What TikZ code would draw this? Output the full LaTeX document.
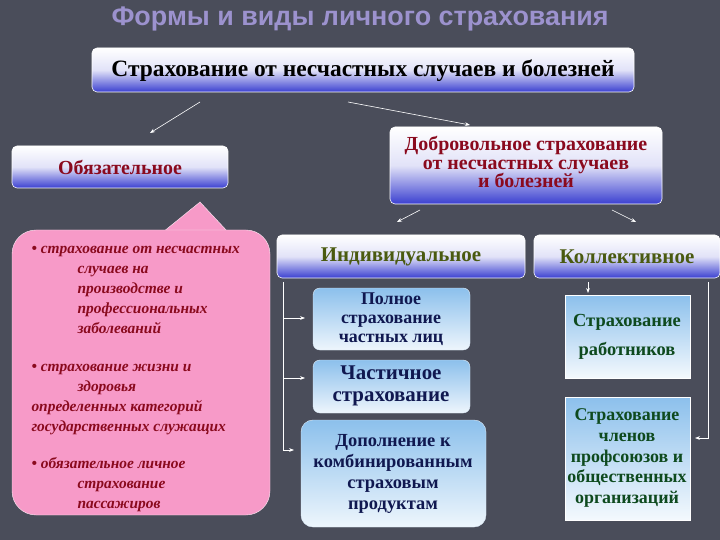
\documentclass[tikz,border=0pt]{standalone}
\usepackage{fontspec}
\setmainfont{Liberation Serif}
\newfontfamily\titlefont{Liberation Sans}
\usetikzlibrary{arrows.meta}
\definecolor{bgcol}{HTML}{4A4D5A}
\definecolor{barblue}{HTML}{3A3FD0}
\definecolor{darkred}{HTML}{8A0A1E}
\definecolor{navy}{HTML}{101850}
\definecolor{olivetxt}{HTML}{4A5A10}
\definecolor{greentxt}{HTML}{0E4A1E}
\definecolor{pinkbox}{HTML}{F79AC8}
\definecolor{titlecol}{HTML}{9C92CE}
\definecolor{skyblue}{HTML}{8CC0EC}
\tikzset{
  barbox/.style={rounded corners=5pt, draw=white, line width=0.6pt, top color=white, bottom color=barblue, middle color=white!85!barblue},
  bluebox/.style={rounded corners=7pt, draw=white!70!skyblue, top color=skyblue, bottom color=white!85!skyblue},
  sqbox/.style={draw=white, top color=skyblue, bottom color=white!90!skyblue},
  conn/.style={white, line width=0.6pt, -{Stealth[length=5pt]}},
}
\begin{document}
\begin{tikzpicture}[x=1bp, y=-1bp, font=\bfseries]
  \fill[bgcol] (0,0) rectangle (720,540);
  \useasboundingbox (0,0) rectangle (720,540);

  % Title
  \node (title) at (360,19) {\titlefont\fontsize{27}{30}\selectfont\color{titlecol}Формы и виды личного страхования};

  % Bars
  \shade[barbox] (92,48) rectangle (634,92);
  \node (top) at (363,71) {\fontsize{23.5}{26}\selectfont Страхование от несчастных случаев и болезней};
  \shade[barbox] (12,146) rectangle (228,188);
  \node[darkred] (obl) at (120,167) {\fontsize{20}{22}\selectfont Обязательное};
  \shade[barbox] (390,127) rectangle (662,204);
  \node[darkred, align=center, font=\bfseries\fontsize{20}{19}\selectfont] (dobr) at (526,162) {Добровольное страхование\\от несчастных случаев\\и болезней};
  \shade[barbox] (277,235) rectangle (525,278);
  \node[olivetxt] (ind) at (401,257) {\fontsize{21}{23}\selectfont Индивидуальное};
  \shade[barbox] (534,235) rectangle (720,278);
  \node[olivetxt] (koll) at (627,257) {\fontsize{21}{23}\selectfont Коллективное};

  % Individual kinds
  \shade[bluebox] (313,288) rectangle (470,350);
  \node[navy, align=center, font=\bfseries\fontsize{18}{19}\selectfont] (poln) at (391,319) {Полное\\страхование\\частных лиц};
  \shade[bluebox] (313,360) rectangle (470,413);
  \node[navy, align=center, font=\bfseries\fontsize{21}{22}\selectfont] (chast) at (391,386) {Частичное\\страхование};
  \shade[bluebox, rounded corners=12pt] (301,420) rectangle (486,527);
  \node[navy, align=center, font=\bfseries\fontsize{18.5}{21}\selectfont] (dop) at (393,474) {Дополнение к\\комбинированным\\страховым\\продуктам};

  % Collective kinds
  \shade[sqbox] (565,295) rectangle (690,378);
  \node[greentxt, align=center, font=\bfseries\fontsize{18.5}{29}\selectfont] (rab) at (627,337) {Страхование\\работников};
  \shade[sqbox] (565,397) rectangle (690,520);
  \node[greentxt, align=center, font=\bfseries\fontsize{18}{21}\selectfont] (chlen) at (627,458) {Страхование\\членов\\профсоюзов и\\общественных\\организаций};

  % Pink callout
  \fill[pinkbox, draw=white!80!pinkbox] (163,232) -- (200,202) -- (228,232) -- cycle;
  \filldraw[pinkbox, draw=white!80!pinkbox, rounded corners=24pt] (12,230) rectangle (270,515);
  \node[darkred, anchor=north west, align=left, font=\bfseries\itshape\fontsize{15.5}{20}\selectfont] (obltext) at (28,243)
    {• страхование от несчастных\\\hspace*{46bp}случаев на\\\hspace*{46bp}производстве и\\\hspace*{46bp}профессиональных\\\hspace*{46bp}заболеваний\\[18pt]
     • страхование жизни и\\\hspace*{46bp}здоровья\\определенных категорий\\государственных служащих\\[18pt]
     • обязательное личное\\\hspace*{46bp}страхование\\\hspace*{46bp}пассажиров};

  % Arrows
  \coordinate (a1) at (200,102); \coordinate (a2) at (150,133);
  \coordinate (b1) at (348,102); \coordinate (b2) at (470,125);
  \draw[conn] (a1) -- (a2);
  \draw[conn] (b1) -- (b2);
  \coordinate (c1) at (420,210); \coordinate (c2) at (397,222);
  \coordinate (d1) at (612,210); \coordinate (d2) at (636,222);
  \draw[conn] (c1) -- (c2);
  \draw[conn] (d1) -- (d2);
  \draw[white, line width=0.6pt] (283,282) -- (283,450);
  \draw[conn] (283,318) -- (305,318);
  \draw[conn] (283,378) -- (305,378);
  \draw[conn] (283,450) -- (294,450);
  \draw[conn] (588,282) -- (588,293);
  \draw[conn] (708,282) -- (708,438) -- (695,438);
\end{tikzpicture}
\end{document}
